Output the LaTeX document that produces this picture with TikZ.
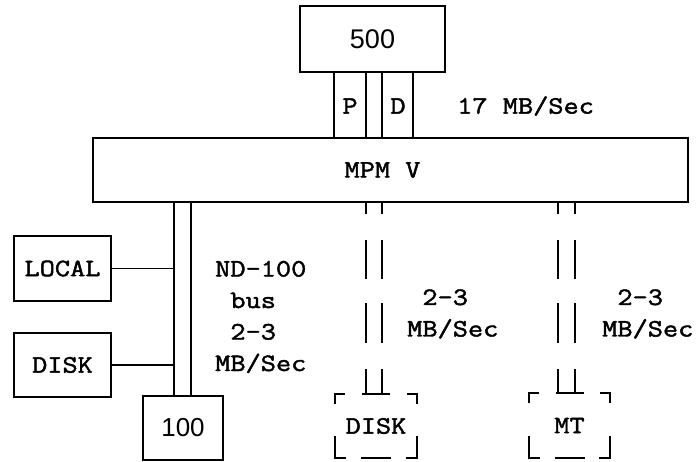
\documentclass[tikz,border=0pt]{standalone}
\usepackage{fontspec}
\setmonofont{Latin Modern Mono}[FakeStretch=1.18, FakeBold=1.8]
\setsansfont{Liberation Sans}
\usetikzlibrary{
    positioning
}
\newcommand{\tw}{\ttfamily\fontsize{25}{31.5}\selectfont}
\newcommand{\sw}{\sffamily\fontsize{26}{30}\selectfont}
\tikzset{
  unit/.style    = {draw, line width=2pt, inner sep=0pt, font=\tw},
  dunit/.style   = {inner sep=0pt, font=\tw},
  lbl/.style     = {inner sep=0pt, anchor=west, align=left, font=\tw},
  wire/.style    = {line width=1.9pt},
  brk/.style     = {line width=1.7pt}
}
% dashed outline of an optional unit: corners and side marks only
\newcommand{\corners}[1]{%
  \draw[brk] ([yshift=-10pt]#1.north west) -- (#1.north west) -- ++(10pt,0);
  \draw[brk] ([yshift=-10pt]#1.north east) -- (#1.north east) -- ++(-10pt,0);
  \draw[brk] ([yshift=22pt]#1.south west) -- (#1.south west) -- ++(11pt,0);
  \draw[brk] ([yshift=22pt]#1.south east) -- (#1.south east) -- ++(-11pt,0);
  \draw[brk] ([xshift=-14pt]#1.north) -- ([xshift=14pt]#1.north);
  \draw[brk] ([xshift=-15pt]#1.south) -- ([xshift=15pt]#1.south);
}

\begin{document}
\begin{tikzpicture}[x=1pt,y=-1pt]
    \useasboundingbox (0,0) rectangle (699,462);

    \node[unit, font={\sffamily\fontsize{27}{30}\selectfont},
          minimum width=145pt, minimum height=66pt] (cpu) at (372.5,39) {500};
    \node[unit, minimum width=595pt, minimum height=64pt] (mpm) at (390.5,170) {MPM V\hspace*{16pt}};
    \node[unit, minimum width=97pt, minimum height=65pt] (loc) at (62.5,268.5) {LOCAL};
    \node[unit, minimum width=97pt, minimum height=64pt, below=30pt of loc] (dsk) {DISK};
    \node[unit, font=\sw, minimum width=80pt, minimum height=64pt] (nd) at (183,428) {100};
    \node[dunit, minimum width=82pt, minimum height=64pt] (xdsk) at (376,426) {DISK};
    \node[dunit, minimum width=81pt, minimum height=65pt] (xmt) at (569.5,425.5) {MT};

    % P and D ports
    \foreach \x in {334,366,382,413} {
      \coordinate (c) at (\x,0);
      \draw[wire] (c |- cpu.south) -- (c |- mpm.north);
    }
    \node[dunit] (pp) at (350,106) {P};
    \node[dunit] (dp) at (398,106) {D};
    \node[lbl] (top) at (457,106) {17 MB/Sec};

    % ND-100 bus
    \coordinate (b1) at (174,0);
    \coordinate (b2) at (191,0);
    \draw[wire] (b1 |- mpm.south) -- (b1 |- nd.north);
    \draw[wire] (b2 |- mpm.south) -- (b2 |- nd.north);
    \draw[wire] (loc.east) -- (loc.east -| b1);
    \draw[wire] (dsk.east) -- (dsk.east -| b1);
    \node[lbl] (busrate) at (215,317) {ND-100\\\phantom{0}bus\\\phantom{0}2-3\\MB/Sec};

    % broken channels
    \foreach \x in {366,382,558,575} {
      \coordinate (c) at (\x,0);
      \draw[wire] (c |- mpm.south) -- (\x,214);
      \draw[wire] (\x,240) -- (\x,279);
      \draw[wire] (\x,303) -- (\x,343);
      \draw[wire] (\x,369) -- (\x,393);
    }
    \corners{xdsk}
    \corners{xmt}
    \node[lbl] (dskrate) at (407,314) {\phantom{0}2-3\\MB/Sec};
    \node[lbl] (mtrate) at (602,314) {\phantom{0}2-3\\MB/Sec};
  \end{tikzpicture}
\end{document}
